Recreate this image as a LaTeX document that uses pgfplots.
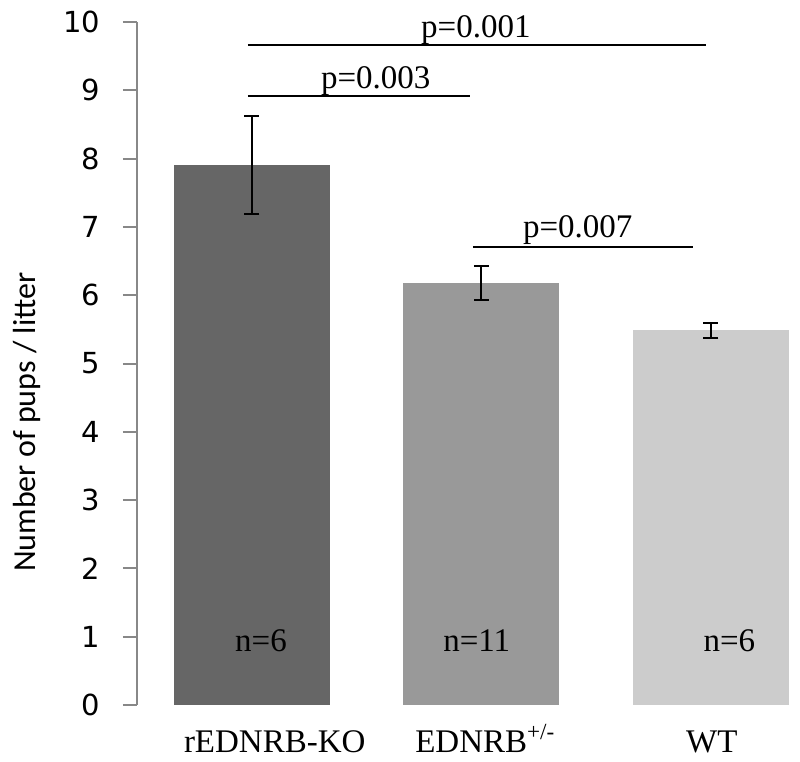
\documentclass[border=0pt]{standalone}
\usepackage{fontspec}
\setmainfont{Liberation Serif}
\newfontfamily\tickfont{DejaVu Sans}
\newfontfamily\labfont{Carlito}
\usepackage{pgfplots}
\pgfplotsset{compat=1.18}

\definecolor{barA}{HTML}{666666}
\definecolor{barB}{HTML}{999999}
\definecolor{barC}{HTML}{CCCCCC}
\definecolor{axgray}{HTML}{888888}

\newcommand{\ptext}{\fontsize{16.5}{19}\selectfont}

\begin{document}
\begin{tikzpicture}
\begin{axis}[
  name=ax,
  at={(0,0)}, anchor=south west,
  scale only axis,
  width=329pt, height=341.5pt,
  xmin=-0.5, xmax=2.366,
  ymin=0, ymax=10,
  ytick={0,1,...,10},
  xtick={0.1,1.017,2.004},
  xticklabels={rEDNRB-KO, EDNRB\textsuperscript{+/-}, WT},
  axis lines*=left,
  x axis line style={draw=none},
  y axis line style={axgray, line width=1pt},
  xtick style={draw=none},
  ytick style={axgray, line width=1pt},
  tick align=outside,
  major tick length=7pt,
  /pgf/number format/assume math mode=true,
  yticklabel style={font=\tickfont\fontsize{14.5}{17}\selectfont, anchor=east, xshift=-8pt},
  xticklabel style={font=\ptext, anchor=base, yshift=-16.5pt},
  ylabel={Number of pups / litter},
  every axis y label/.style={at={(axis description cs:-0.1672,0.414)}, rotate=90, anchor=center, font=\labfont\fontsize{16}{18}\selectfont},
  ybar, bar width=0.68, bar shift=0pt,
  clip=false,
  error bars/error bar style={black, line width=1pt},
  error bars/error mark options={black, line width=1pt, mark size=3.75pt, rotate=90},
]
\addplot[fill=barA, draw=none, error bars/.cd, y dir=both, y explicit]
  coordinates {(0,7.91) +- (0,0.72)};
\addplot[fill=barB, draw=none, error bars/.cd, y dir=both, y explicit]
  coordinates {(1,6.18) +- (0,0.25)};
\addplot[fill=barC, draw=none, error bars/.cd, y dir=both, y explicit]
  coordinates {(2,5.49) +- (0,0.11)};

% significance lines
\addplot[sharp plot, black, line width=1pt, forget plot] coordinates {(-0.017,9.66) (1.978,9.66)};
\addplot[sharp plot, black, line width=1pt, forget plot] coordinates {(-0.017,8.92) (0.95,8.92)};
\addplot[sharp plot, black, line width=1pt, forget plot] coordinates {(0.963,6.71) (1.92,6.71)};

\node[font=\ptext, anchor=base] at (axis cs:0.976,9.78) {p=0.001};
\node[font=\ptext, anchor=base] at (axis cs:0.54,9.03) {p=0.003};
\node[font=\ptext, anchor=base] at (axis cs:1.42,6.85) {p=0.007};

\node[font=\ptext, anchor=base] at (axis cs:0.04,0.78) {n=6};
\node[font=\ptext, anchor=base] at (axis cs:0.98,0.78) {n=11};
\node[font=\ptext, anchor=base] at (axis cs:2.08,0.78) {n=6};
\end{axis}
\pgfresetboundingbox
\path (-68.5pt,-28.5pt) rectangle (331.5pt,352.5pt);
\end{tikzpicture}
\end{document}
